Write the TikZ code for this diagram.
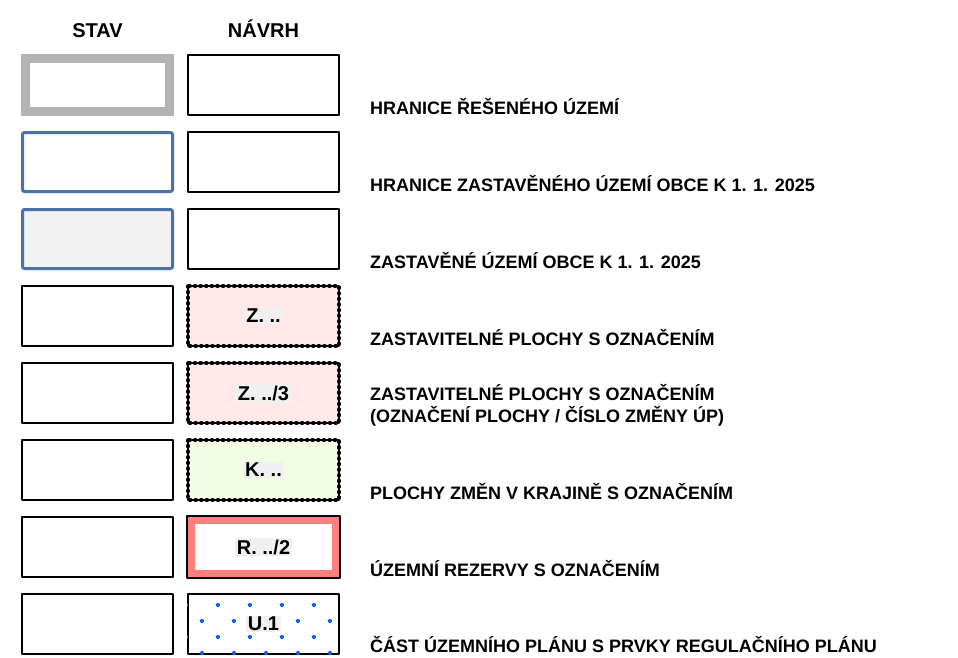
\documentclass[tikz,border=0pt]{standalone}
\usepackage{fontspec}
\setmainfont{Liberation Sans}
\definecolor{hranicesed}{HTML}{B3B3B3}
\definecolor{obecmodra}{HTML}{4A72A8}
\definecolor{zastsed}{HTML}{F2F2F2}
\definecolor{zastruz}{HTML}{FFE8EA}
\definecolor{krajzel}{HTML}{F2FCE2}
\definecolor{rezerva}{HTML}{FF7F7F}
\definecolor{regmodra}{HTML}{0A64F0}
\definecolor{stitek}{HTML}{F0F0F0}
\begin{document}
\begin{tikzpicture}[x=1pt,y=-1pt,line join=round,font=\fontsize{18}{22}\selectfont\bfseries,
	box/.style={draw=black,line width=1.6pt,fill=white,minimum width=151pt,minimum height=60pt,inner sep=0pt},
	hranice/.style={draw=hranicesed,line width=9pt,line join=miter,fill=white,minimum width=144pt,minimum height=53pt,inner sep=0pt},
	obec/.style={draw=obecmodra,line width=3pt,rounded corners=2pt,fill=white,minimum width=150pt,minimum height=59pt,inner sep=0pt},
	tecky/.style={draw=black,line width=1.4pt,minimum width=151pt,minimum height=60pt,inner sep=0pt,outer sep=0pt},
	teckovane/.style={line width=3.6pt,dash pattern=on 1pt off 4.6pt,line cap=round},
	rez/.style={draw=rezerva,line width=8pt,line join=miter,fill=white,minimum width=145pt,minimum height=54pt,inner sep=0pt},
	znacka/.style={fill=stitek,inner sep=1.5pt,font=\fontsize{20}{24}\selectfont\bfseries},
	hlavicka/.style={anchor=base,inner sep=0pt,font=\fontsize{20}{24}\selectfont\bfseries},
	popis/.style={anchor=base west,inner sep=0pt}]
	\useasboundingbox (0,0) rectangle (958,657);
	
	\node[hlavicka] (stav) at (97.5,37) {STAV};
	\node[hlavicka] (navrh) at (263.5,37) {NÁVRH};
	
	% stav
	\node[hranice] (s1) at (97.5,85) {};
	\node[obec] (s2) at (97.5,162) {};
	\node[obec,fill=zastsed] (s3) at (97.5,239) {};
	\node[box] (s4) at (97.5,316) {};
	\node[box] (s5) at (97.5,393) {};
	\node[box] (s6) at (97.5,470) {};
	\node[box] (s7) at (97.5,547) {};
	\node[box] (s8) at (97.5,624) {};
	
	% navrh
	\node[box] (n1) at (263.5,85) {};
	\node[box] (n2) at (263.5,162) {};
	\node[box] (n3) at (263.5,239) {};
	\node[tecky,fill=zastruz] (n4) at (263.5,316) {};
	\node[tecky,fill=zastruz] (n5) at (263.5,393) {};
	\node[tecky,fill=krajzel] (n6) at (263.5,470) {};
	\foreach \n in {n4,n5,n6}
		\draw[teckovane] (\n.north west) rectangle (\n.south east);
	\node[rez] (n7) at (263.5,547) {};
	\draw[black,line width=1.5pt] (n7.north west) rectangle (n7.south east);
	\node[box] (n8) at (263.5,624) {};
	\begin{scope}
		\clip (n8.north west) rectangle (n8.south east);
		\foreach \x in {186,218,...,346} \foreach \y in {605,637} \fill[regmodra] (\x,\y) circle (2.1);
		\foreach \x in {202,234,...,330} \foreach \y in {621,653} \fill[regmodra] (\x,\y) circle (2.1);
	\end{scope}
	
	\node[znacka] (z4) at (n4) {Z. ..};
	\node[znacka] (z5) at (n5) {Z. ../3};
	\node[znacka] (z6) at (n6) {K. ..};
	\node[znacka] (z7) at (n7) {R. ../2};
	\node[znacka] (z8) at (n8) {U.1};
	
	% popisy
	\node[popis] (p1) at (370,114.5) {HRANICE ŘEŠENÉHO ÚZEMÍ};
	\node[popis] (p2) at (370,191.5) {HRANICE ZASTAVĚNÉHO ÚZEMÍ OBCE K 1. 1. 2025};
	\node[popis] (p3) at (370,268.5) {ZASTAVĚNÉ ÚZEMÍ OBCE K 1. 1. 2025};
	\node[popis] (p4) at (370,345.5) {ZASTAVITELNÉ PLOCHY S OZNAČENÍM};
	\node[popis,align=left] (p5) at (370,422) {ZASTAVITELNÉ PLOCHY S OZNAČENÍM\\(OZNAČENÍ PLOCHY / ČÍSLO ZMĚNY ÚP)};
	\node[popis] (p6) at (370,499.5) {PLOCHY ZMĚN V KRAJINĚ S OZNAČENÍM};
	\node[popis] (p7) at (370,576.5) {ÚZEMNÍ REZERVY S OZNAČENÍM};
	\node[popis] (p8) at (370,652) {ČÁST ÚZEMNÍHO PLÁNU S PRVKY REGULAČNÍHO PLÁNU};
\end{tikzpicture}
\end{document}
